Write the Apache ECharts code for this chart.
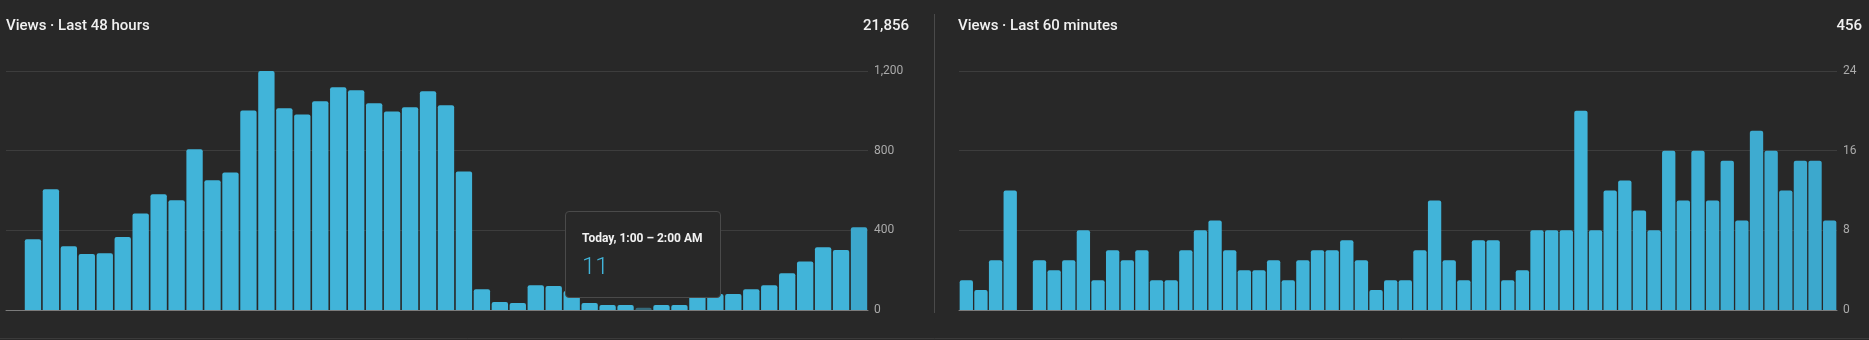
<!DOCTYPE html>
<html>
<head>
<meta charset="utf-8">
<script src="https://cdn.jsdelivr.net/npm/echarts@6/dist/echarts.min.js"></script>
<style>
  html, body { margin: 0; padding: 0; background: #282828; }
  #main { width: 1869px; height: 340px; }
</style>
</head>
<body>
<div id="main"></div>
<script>
// views per hour, last 48 hours (first slot empty)
var views48 = [0, 355, 606, 320, 281, 285, 367, 485, 581, 551, 807, 651, 691, 1002, 1200, 1013,
    982, 1048, 1118, 1103, 1038, 997, 1018, 1098, 1028, 696, 104, 40, 35, 124, 120, 95,
    35, 25, 25, 11, 25, 25, 70, 80, 80, 104, 124, 184, 244, 315, 301, 415];

// views per minute, last 60 minutes
var views60 = [3, 2, 5, 12, 0, 5, 4, 5, 8, 3, 6, 5, 6, 3, 3, 6, 8, 9, 6, 4,
    4, 5, 3, 5, 6, 6, 7, 5, 2, 3, 3, 6, 11, 5, 3, 7, 7, 3, 4, 8,
    8, 8, 20, 8, 12, 13, 10, 8, 16, 11, 16, 11, 15, 9, 18, 16, 12, 15, 15, 9];

var titles = ['Views · Last 48 hours', 'Views · Last 60 minutes'];
var totals = ['21,856', '456'];
var yTicks48 = [0, 400, 800, 1200];
var yTicks60 = [0, 8, 16, 24];

var hoverIdx = 35; // bar with the tooltip

// hour labels, index 35 = today 1 AM
function hh(h) {
    var ap = h < 12 ? 'AM' : 'PM';
    return { t: ((h % 12) || 12) + ':00', ap: ap };
}
var hourLabels = [];
for (var i = 0; i < 48; i++) {
    var h = 1 + (i - hoverIdx);
    var day = Math.floor(h / 24);
    var a = hh(((h % 24) + 24) % 24), b = hh((((h + 1) % 24) + 24) % 24);
    var dname = day === 0 ? 'Today' : (day === -1 ? 'Yesterday' : '2 days ago');
    var range = a.ap === b.ap ? a.t + ' – ' + b.t + ' ' + b.ap : a.t + ' ' + a.ap + ' – ' + b.t + ' ' + b.ap;
    hourLabels.push(dname + ', ' + range);
}
var minuteLabels = views60.map(function (v, i) { return String(i + 1); });

var BAR = '#41b4d9';

function mix(c1, c2, t) {
    var p = function (c, k) { return parseInt(c.substr(1 + k * 2, 2), 16); };
    var out = '#';
    for (var k = 0; k < 3; k++) {
        var v = Math.round(p(c1, k) + (p(c2, k) - p(c1, k)) * t);
        out += ('0' + v.toString(16)).slice(-2);
    }
    return out;
}

var myChart = echarts.init(document.getElementById('main'));

var titleStyle = { color: '#f1f1f1', fontSize: 15, fontWeight: 500, fontFamily: 'Roboto', lineHeight: 18 };

function yAxis(idx, ticks) {
    return {
        type: 'value',
        gridIndex: idx,
        position: 'right',
        min: ticks[0],
        max: ticks[ticks.length - 1],
        interval: ticks[1] - ticks[0],
        axisLine: { show: false },
        axisTick: { show: false },
        axisLabel: {
            color: '#aaaaaa',
            fontSize: 12,
            fontFamily: 'Roboto',
            margin: 6,
            formatter: function (v) { return v.toLocaleString('en-US'); }
        },
        splitLine: { lineStyle: { color: '#3d3d3d', width: 1 } }
    };
}

function xAxis(idx, cats) {
    return {
        type: 'category',
        gridIndex: idx,
        data: cats,
        axisLine: { lineStyle: { color: '#7b7b7b', width: 1 } },
        axisTick: { show: false },
        axisLabel: { show: false }
    };
}

var option = {
    backgroundColor: '#282828',
    animation: false,
    title: [
        { text: titles[0], left: 6, top: 17, padding: 0, textStyle: titleStyle },
        { text: totals[0], right: 960, top: 17, padding: 0, textStyle: titleStyle },
        { text: titles[1], left: 958, top: 17, padding: 0, textStyle: titleStyle },
        { text: totals[1], right: 7, top: 17, padding: 0, textStyle: titleStyle }
    ],
    grid: [
        { left: 6, right: 1001, top: 71, bottom: 30 },
        { left: 959, right: 32, top: 71, bottom: 30 }
    ],
    xAxis: [xAxis(0, hourLabels), xAxis(1, minuteLabels)],
    yAxis: [yAxis(0, yTicks48), yAxis(1, yTicks60)],
    tooltip: {
        trigger: 'item',
        triggerOn: 'none',
        alwaysShowContent: true,
        transitionDuration: 0,
        position: [565, 211],
        backgroundColor: '#282828',
        borderColor: '#4a4a4a',
        borderWidth: 1,
        padding: [18, 16, 0, 16],
        extraCssText: 'width:156px;height:87px;box-sizing:border-box;box-shadow:none;border-radius:4px;',
        formatter: function (p) {
            return '<div style="font-family:Roboto;font-size:12px;font-weight:700;color:#f1f1f1;line-height:16px;white-space:nowrap;">' +
                p.name + '</div>' +
                '<div style="font-family:Roboto;font-size:24px;font-weight:300;color:#41b4d9;line-height:28px;margin-top:6px;">' +
                p.value.toLocaleString('en-US') + '</div>';
        }
    },
    graphic: [
        { type: 'line', shape: { x1: 934.5, y1: 14, x2: 934.5, y2: 313 }, style: { stroke: '#4a4a4a', lineWidth: 1 }, silent: true },
        { type: 'line', shape: { x1: 0, y1: 338.5, x2: 1869, y2: 338.5 }, style: { stroke: '#3a3a3a', lineWidth: 1 }, silent: true }
    ],
    series: [
        {
            type: 'bar',
            xAxisIndex: 0,
            yAxisIndex: 0,
            barCategoryGap: '9%',
            data: views48,
            itemStyle: {
                borderRadius: [2, 2, 0, 0],
                color: function (p) {
                    if (p.dataIndex === hoverIdx) return '#356a7b';
                    if (p.dataIndex === views48.length - 1) return '#3ca7cc';
                    return BAR;
                }
            }
        },
        {
            type: 'bar',
            xAxisIndex: 1,
            yAxisIndex: 1,
            barCategoryGap: '9%',
            data: views60,
            tooltip: { show: false },
            itemStyle: {
                borderRadius: [2, 2, 0, 0],
                color: function (p) {
                    var t = (p.dataIndex - 44) / 15;
                    if (t <= 0) return BAR;
                    return mix(BAR, '#3ca7cc', t);
                }
            }
        }
    ]
};

myChart.setOption(option);
myChart.dispatchAction({ type: 'showTip', seriesIndex: 0, dataIndex: hoverIdx });
</script>
</body>
</html>
